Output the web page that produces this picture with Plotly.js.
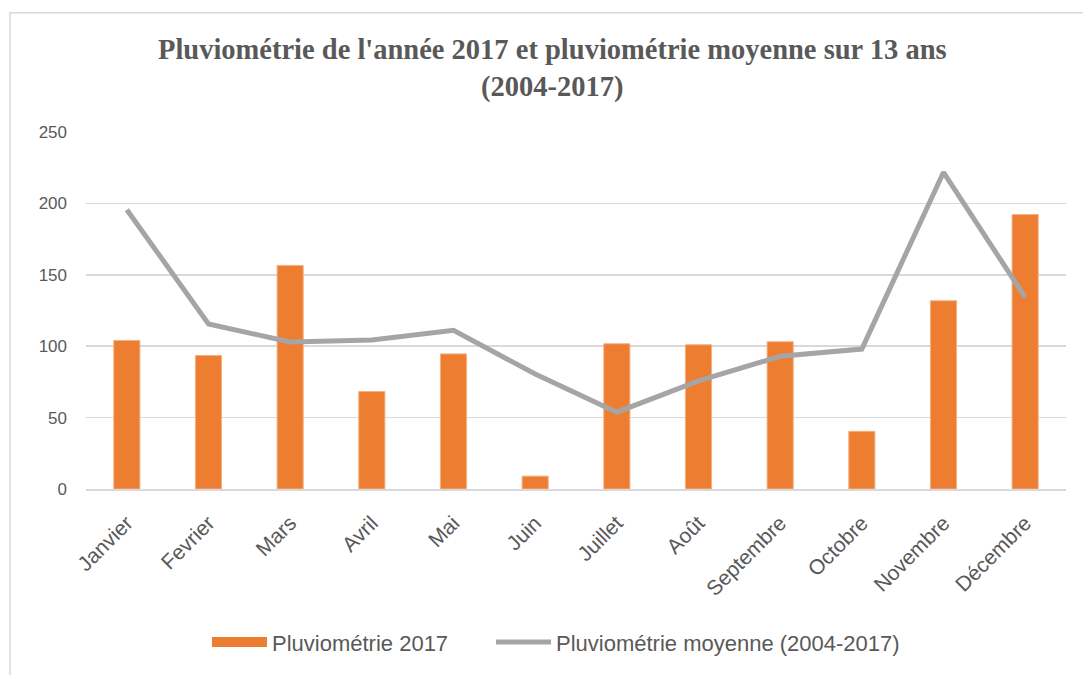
<!DOCTYPE html>
<html>
<head>
<meta charset="utf-8">
<script src="https://cdn.plot.ly/plotly-3.0.1.min.js"></script>
<style>html,body{margin:0;padding:0;background:#fff;}#chart{width:1083px;height:675px;}</style>
</head>
<body>
<div id="chart"></div>
<script>
var months = ["Janvier","Fevrier","Mars","Avril","Mai","Juin","Juillet","Août","Septembre","Octobre","Novembre","Décembre"];
var rain2017 = [104, 93.5, 156.6, 68.3, 94.6, 9, 101.7, 101, 103.1, 40.4, 131.8, 192.2];
var rainAvg = [195.6, 115.6, 102.9, 104.3, 111.2, 80.5, 53.8, 75.7, 92.9, 98, 221.8, 134.2];
var seriesNames = ["Pluviométrie 2017", "Pluviométrie moyenne (2004-2017)"];
var yTicks = [0, 50, 100, 150, 200, 250];

var L = 86, R = 1066, T = 132, B = 491, W = 1083, H = 675;
var ORANGE = "#ED7D31", GREY = "#A5A5A5";
function px(x){ return (x - L) / (R - L); }
function py(y){ return (B - y) / (B - T); }
var legFont = {family:"Liberation Sans, Arial, sans-serif", size:22, color:"#595959"};

var traces = [
  {type:"bar", x:months, y:rain2017, name:seriesNames[0], showlegend:false, legendgroup:"a",
   marker:{color:ORANGE, line:{color:"#F4B183", width:1}}, hoverinfo:"x+y"},
  // legend-only entry so the swatch is a wide orange block, as in the reference
  {type:"scatter", mode:"lines", x:[months[0]], y:[null], name:seriesNames[0], legendgroup:"a", legend:"legend",
   line:{color:ORANGE, width:13}, hoverinfo:"skip"},
  {type:"scatter", mode:"lines", x:months, y:rainAvg, name:seriesNames[1], legend:"legend2",
   line:{color:GREY, width:5}, hoverinfo:"x+y"}
];

var layout = {
  width:W, height:H,
  margin:{l:L, r:W-R, t:T, b:H-B, pad:0},
  paper_bgcolor:"#ffffff", plot_bgcolor:"#ffffff",
  title:{text:"Pluviométrie de l'année 2017 et pluviométrie moyenne sur 13 ans<br>(2004-2017)",
    font:{family:"Liberation Serif, DejaVu Serif, serif", size:28.5, color:"#595959", weight:"bold"},
    x:0.51, xanchor:"center", y:0.912, yanchor:"top", xref:"container"},
  bargap:0.68,
  showlegend:true,
  legend:{orientation:"h", x:px(207), xanchor:"left", y:py(645), yanchor:"middle",
    font:legFont, itemwidth:55},
  legend2:{orientation:"h", x:px(491), xanchor:"left", y:py(645), yanchor:"middle",
    font:legFont, itemwidth:55},
  xaxis:{type:"category", tickangle:-45, showgrid:false, showline:true, linecolor:"#D9D9D9", linewidth:1.5,
    ticks:"", ticklabelstandoff:12, tickfont:{family:"Liberation Sans, Arial, sans-serif", size:21, color:"#595959"},
    fixedrange:true},
  yaxis:{range:[0,250], tickvals:yTicks, ticktext:yTicks.map(String), showgrid:true, gridcolor:"#D9D9D9", gridwidth:1.5,
    zeroline:false, showline:false, ticks:"", ticklabelstandoff:18,
    tickfont:{family:"Liberation Sans, Arial, sans-serif", size:17, color:"#595959"}, fixedrange:true},
  shapes:[{type:"rect", xref:"paper", yref:"paper", x0:px(10), x1:px(1095), y0:py(12), y1:py(690),
    line:{color:"#D9D9D9", width:1.5}, fillcolor:"rgba(0,0,0,0)", layer:"below"}]
};

Plotly.newPlot("chart", traces, layout, {displayModeBar:false, staticPlot:true});
</script>
</body>
</html>
